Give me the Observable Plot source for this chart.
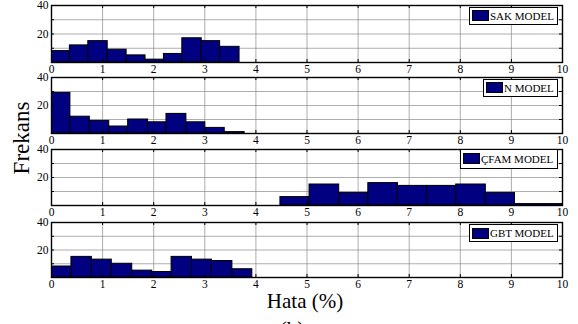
<!DOCTYPE html>
<html>
<head>
<meta charset="utf-8">
<script src="https://cdn.jsdelivr.net/npm/d3@7"></script>
<script src="https://cdn.jsdelivr.net/npm/@observablehq/plot@0.6"></script>
<style>
  body { margin: 0; background: #fff; }
  #wrap { position: relative; width: 578px; height: 324px; overflow: hidden; background: #fff;
          font-family: "Liberation Serif", "Times New Roman", serif; }
  #wrap svg, #wrap svg text { font-family: "Liberation Serif", "Times New Roman", serif !important; }
  .panel { position: absolute; left: 0; }
  .legend { position: absolute; background: #fff; border: 1.4px solid #000; box-sizing: border-box;
            font-size: 11px; display: flex; align-items: center; white-space: nowrap; color: #000; }
  .sw { width: 15px; height: 9px; background: #000080; border: 1px solid #000; margin: 0 1px 0 2px; flex: none; }
  .lab { position: absolute; color: #000; white-space: nowrap; }
</style>
</head>
<body>
<div id="wrap"></div>
<script>
// ---- data ----
const models = ["SAK MODEL", "N MODEL", "ÇFAM MODEL", "GBT MODEL"];

const sakEdges   = [0, 0.36, 0.72, 1.10, 1.47, 1.84, 2.20, 2.56, 2.94, 3.30, 3.68];
const sakCounts  = [8, 12, 15, 9, 5, 2, 6, 17, 15, 11];

const nEdges     = [0, 0.37, 0.75, 1.13, 1.50, 1.89, 2.25, 2.64, 3.01, 3.39, 3.78];
const nCounts    = [29, 12, 9, 5, 10, 8, 14, 8, 4, 1];

const cfamEdges  = [4.48, 5.05, 5.63, 6.20, 6.78, 7.35, 7.92, 8.50, 9.07, 9.65, 10.22];
const cfamCounts = [6, 15, 9, 16, 14, 14, 15, 9, 1, 1];

const gbtEdges   = [0, 0.39, 0.79, 1.18, 1.58, 1.97, 2.35, 2.75, 3.14, 3.54, 3.93];
const gbtCounts  = [8, 15, 13, 10, 5, 4, 15, 13, 12, 6];

const xTicks = [0, 1, 2, 3, 4, 5, 6, 7, 8, 9, 10];
const yTicks = [0, 10, 20, 30, 40];
const yLabels = [20, 40];

const xLabel = "Hata (%)";
const yLabel = "Frekans";
const subLabel = "(b)";

// ---- layout ----
const panels = [
  {edges: sakEdges,  counts: sakCounts,  top: 5,   bottom: 62,  leg: {left: 469, top: 7,   w: 89, h: 17.5}},
  {edges: nEdges,    counts: nCounts,    top: 77,  bottom: 133, leg: {left: 483, top: 79,  w: 75, h: 17.5}},
  {edges: cfamEdges, counts: cfamCounts, top: 149, bottom: 205, leg: {left: 460, top: 149, w: 98, h: 19.5}},
  {edges: gbtEdges,  counts: gbtCounts,  top: 222, bottom: 277, leg: {left: 469, top: 224, w: 89, h: 18}}
];

const wrap = document.getElementById("wrap");
const W = 578, mL = 51, mR = 16, mT = 5, mB = 16;
const innerW = W - mL - mR;
const serif = "'Liberation Serif', 'Times New Roman', serif";

panels.forEach((p, i) => {
  const bins = p.counts.map((c, k) => ({x1: p.edges[k], x2: p.edges[k + 1], count: c}));
  const innerH = p.bottom - p.top;
  const gridStyle = {stroke: "#8a8a8a", strokeOpacity: 1, strokeWidth: 0.7};
  const svg = Plot.plot({
    width: W,
    height: mT + innerH + mB,
    marginLeft: mL, marginRight: mR, marginTop: mT, marginBottom: mB,
    x: {domain: [0, 10], label: null},
    y: {domain: [0, 40], label: null},
    style: {background: "transparent", fontFamily: serif, fontSize: "11.5px", color: "#000", overflow: "visible"},
    marks: [
      Plot.gridX(xTicks.slice(1, -1), gridStyle),
      Plot.gridY(yTicks.slice(1, -1), gridStyle),
      Plot.rectY(bins, {x1: "x1", x2: "x2", y: "count", fill: "#000080", stroke: "#000", strokeWidth: 1, clip: true}),
      Plot.tickX(xTicks, {x: d => d, insetTop: innerH - 3, stroke: "#000"}),
      Plot.tickX(xTicks, {x: d => d, insetBottom: innerH - 3, stroke: "#000"}),
      Plot.tickY(yTicks, {y: d => d, insetRight: innerW - 3, stroke: "#000"}),
      Plot.tickY(yTicks, {y: d => d, insetLeft: innerW - 3, stroke: "#000"}),
      Plot.frame({stroke: "#000", strokeWidth: 1.4}),
      Plot.axisX(xTicks, {tickSize: 0, tickPadding: 2.5, label: null, fontSize: 11.5, fontFamily: serif}),
      Plot.axisY(yLabels, {tickSize: 0, tickPadding: 3, label: null, fontSize: 11.5, fontFamily: serif})
    ]
  });
  svg.classList.add("panel");
  svg.style.top = (p.top - mT) + "px";
  wrap.appendChild(svg);

  const leg = document.createElement("div");
  leg.className = "legend";
  leg.style.left = p.leg.left + "px";
  leg.style.top = p.leg.top + "px";
  leg.style.width = p.leg.w + "px";
  leg.style.height = p.leg.h + "px";
  const sw = document.createElement("div");
  sw.className = "sw";
  const tx = document.createElement("span");
  tx.textContent = models[i];
  leg.appendChild(sw);
  leg.appendChild(tx);
  wrap.appendChild(leg);
});

// axis titles
const xl = document.createElement("div");
xl.className = "lab";
xl.textContent = xLabel;
xl.style.fontSize = "21px";
xl.style.left = "305px";
xl.style.top = "289px";
xl.style.transform = "translateX(-50%)";
wrap.appendChild(xl);

const yl = document.createElement("div");
yl.className = "lab";
yl.textContent = yLabel;
yl.style.fontSize = "23px";
yl.style.left = "22px";
yl.style.top = "138px";
yl.style.transform = "translate(-50%, -50%) rotate(-90deg)";
wrap.appendChild(yl);

const bl = document.createElement("div");
bl.className = "lab";
bl.textContent = subLabel;
bl.style.fontSize = "21px";
bl.style.left = "292px";
bl.style.top = "317px";
bl.style.transform = "translateX(-50%)";
wrap.appendChild(bl);
</script>
</body>
</html>
